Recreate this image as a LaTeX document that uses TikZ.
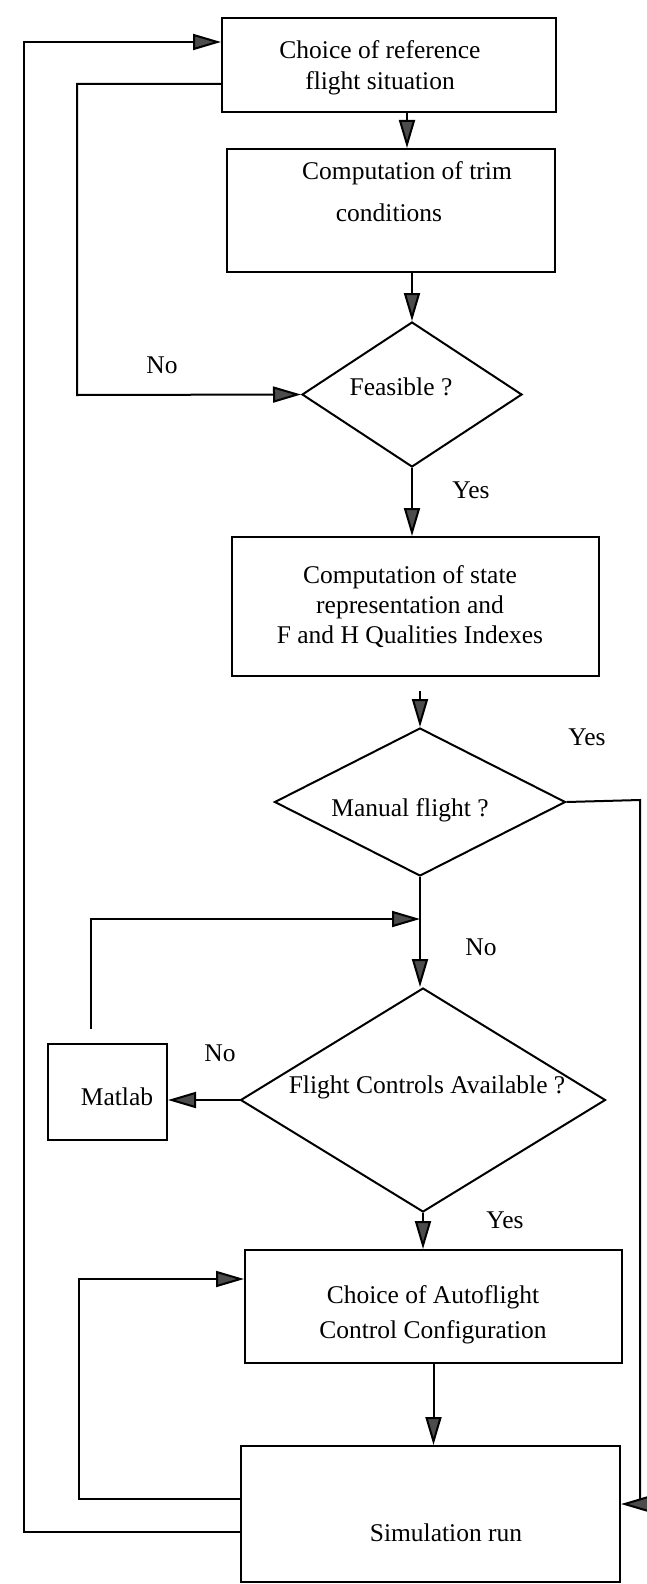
\documentclass[tikz,border=0pt]{standalone}
\usepackage{fontspec}
\setmainfont{Liberation Serif}
\usetikzlibrary{arrows.meta,shapes.geometric,calc}
\tikzset{
  box/.style={draw,line width=2pt,inner sep=0pt,minimum width=#1},
  dia/.style={draw,diamond,line width=2pt,inner sep=0pt},
  txt/.style={align=center,inner sep=0pt,font=\fontsize{25.5}{31}\selectfont},
  lbl/.style={inner sep=0pt,font=\fontsize{25.5}{31}\selectfont},
  arr/.style={line width=2pt,-{Triangle[length=28pt,width=16pt,fill=black!70]}},
}
\begin{document}
\begin{tikzpicture}[x=1pt,y=-1pt]
\useasboundingbox (0,0) rectangle (647,1584);
% boxes
\node[box=334pt,minimum height=94pt] (b1) at (389,65) {};
\node[box=328pt,minimum height=123pt] (b2) at (391,210.5) {};
\node[dia,minimum width=220pt,minimum height=145pt] (d1) at (412,394.5) {};
\node[box=367pt,minimum height=139pt] (b3) at (415.5,606.5) {};
\node[dia,minimum width=291pt,minimum height=148pt] (d2) at (420,802) {};
\node[dia,minimum width=365pt,minimum height=224pt] (d3) at (423,1100) {};
\node[box=119pt,minimum height=96pt] (mat) at (107.5,1092) {};
\node[box=377pt,minimum height=113pt] (b5) at (433.5,1306.5) {};
\node[box=379pt,minimum height=136pt] (b6) at (430.5,1514) {};
% texts
\node[txt] (t1) at (380,67.5) {Choice of reference\\flight situation};
\node[txt] (t2a) at (407,173) {Computation of trim};
\node[txt] (t2b) at (389,213) {conditions};
\node[txt,font=\fontsize{25.5}{30}\selectfont] (t3) at (410,607) {Computation of state\\representation and\\F and H Qualities Indexes};
\node[txt] (t4) at (401,387) {Feasible ?};
\node[txt] (t5) at (410,810) {Manual flight ?};
\node[txt] (t6) at (427,1087) {Flight Controls Available ?};
\node[txt] (t7) at (117,1097) {Matlab};
\node[txt,font=\fontsize{25.5}{35}\selectfont] (t8) at (433,1314.5) {Choice of Autoflight\\Control Configuration};
\node[txt] (t9) at (446,1533) {Simulation run};
% labels
\node[lbl] (no1) at (162,365) {No};
\node[lbl] (yes1) at (471,490) {Yes};
\node[lbl] (yes2) at (587,737) {Yes};
\node[lbl] (no2) at (481,947) {No};
\node[lbl] (no3) at (220,1053) {No};
\node[lbl] (yes3) at (505,1220) {Yes};
% coordinates
\coordinate (oc) at (24,42);
\coordinate (ic1) at (77,395);
\coordinate (j) at (420,919);
\coordinate (mc) at (91,919);
\coordinate (rc) at (640,800);
\coordinate (ic2) at (79,1279);
% main flow
\draw[arr] ([xshift=18pt]b1.south) -- ([xshift=18pt]b1.south |- b2.north);
\draw[arr] (b2.south -| d1.north) -- (d1.north);
\draw[arr] (d1.south) -- (d1.south |- b3.north);
\draw[arr,shorten <=14pt] (b3.south -| d2.north) -- (d2.north);
\draw[arr] (d2.south) -- (d2.south |- d3.north);
\draw[arr] (d3.west) -- (d3.west -| mat.east);
\draw[arr] (d3.south) -- (d3.south |- b5.north);
\draw[arr] (b5.south) -- (b5.south |- b6.north);
% loops
\draw[arr] ([yshift=-19pt]b1.west) -| (ic1) -- (d1.west);
\draw[arr] ([xshift=-16.5pt,yshift=14pt]mat.north) -- (mc) -- (j);
\draw[arr] (d2.east) -- (rc) |- ([yshift=10pt]b6.east);
\draw[arr] ([yshift=15pt]b6.west) -| (ic2) -- (ic2 -| b5.west);
\draw[arr] ([yshift=-18pt]b6.west) -| (oc) -- (oc -| b1.west);
\end{tikzpicture}
\end{document}
